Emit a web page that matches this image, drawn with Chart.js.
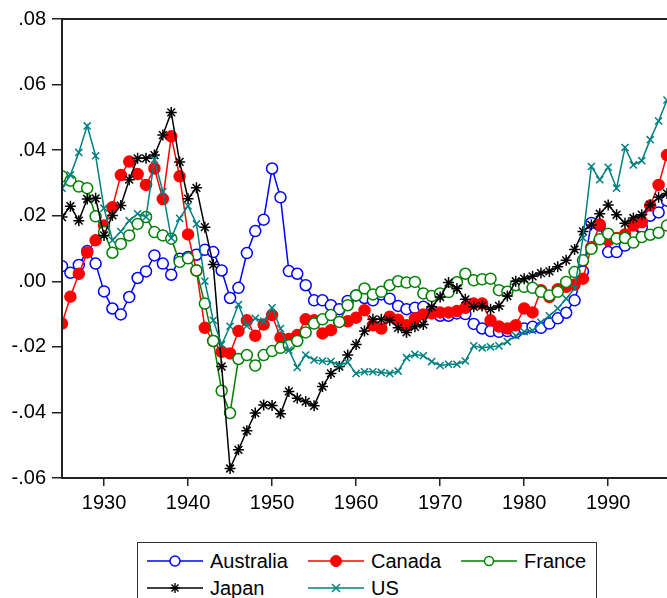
<!DOCTYPE html>
<html><head><meta charset="utf-8">
<script src="https://cdn.jsdelivr.net/npm/chart.js@4/dist/chart.umd.min.js"></script>
<style>
html,body{margin:0;padding:0;background:#fff;overflow:hidden}
#wrap{position:relative;width:667px;height:598px;overflow:hidden;background:#fff}
#c{position:absolute;left:0;top:0}
#legend{position:absolute;left:137px;top:542px;width:460px;height:70px;border:1.5px solid #333;box-sizing:border-box;font-family:"Liberation Sans",Arial,sans-serif;font-size:20px;color:#000;background:#fff}
.item{position:absolute;height:22px;display:flex;align-items:center;white-space:nowrap}
.item svg{margin-right:7px}
</style>
</head><body>
<div id="wrap">
<canvas id="c" width="667" height="598"></canvas>
<div id="legend"></div>
</div>
<script>
const years = [1925,1926,1927,1928,1929,1930,1931,1932,1933,1934,1935,1936,1937,1938,1939,1940,1941,1942,1943,1944,1945,1946,1947,1948,1949,1950,1951,1952,1953,1954,1955,1956,1957,1958,1959,1960,1961,1962,1963,1964,1965,1966,1967,1968,1969,1970,1971,1972,1973,1974,1975,1976,1977,1978,1979,1980,1981,1982,1983,1984,1985,1986,1987,1988,1989,1990,1991,1992,1993,1994,1995,1996,1997];

const australia = [0.0046,0.0026,0.0050,0.0092,0.0054,-0.0031,-0.0083,-0.0101,-0.0048,0.0010,0.0030,0.0079,0.0054,0.0020,0.0069,0.0074,0.0081,0.0096,0.0089,0.0033,-0.0051,-0.0020,0.0086,0.0153,0.0188,0.0344,0.0256,0.0031,0.0023,-0.0012,-0.0058,-0.0058,-0.0073,-0.0085,-0.0060,-0.0043,-0.0051,-0.0058,-0.0040,-0.0053,-0.0075,-0.0085,-0.0081,-0.0078,-0.0090,-0.0105,-0.0105,-0.0098,-0.0100,-0.0130,-0.0144,-0.0152,-0.0154,-0.0152,-0.0156,-0.0144,-0.0139,-0.0142,-0.0129,-0.0113,-0.0096,-0.0058,0.0030,0.0178,0.0170,0.0089,0.0089,0.0109,0.0140,0.0165,0.0200,0.0210,0.0246];

const canada = [-0.0129,-0.0047,0.0023,0.0088,0.0125,0.0170,0.0226,0.0324,0.0365,0.0327,0.0294,0.0344,0.0251,0.0442,0.0320,0.0143,0.0033,-0.0142,-0.0182,-0.0215,-0.0220,-0.0152,-0.0119,-0.0166,-0.0132,-0.0103,-0.0172,-0.0176,-0.0164,-0.0116,-0.0119,-0.0159,-0.0149,-0.0124,-0.0122,-0.0111,-0.0088,-0.0134,-0.0144,-0.0108,-0.0117,-0.0134,-0.0113,-0.0101,-0.0098,-0.0095,-0.0095,-0.0091,-0.0081,-0.0068,-0.0068,-0.0119,-0.0138,-0.0144,-0.0134,-0.0083,-0.0095,-0.0027,-0.0048,-0.0024,-0.0017,-0.0010,0.0008,0.0104,0.0173,0.0125,0.0132,0.0143,0.0170,0.0180,0.0231,0.0294,0.0385];

const france = [0.0320,0.0307,0.0289,0.0284,0.0198,0.0150,0.0087,0.0114,0.0140,0.0175,0.0196,0.0150,0.0140,0.0130,0.0059,0.0070,0.0033,-0.0068,-0.0182,-0.0334,-0.0402,-0.0237,-0.0225,-0.0257,-0.0225,-0.0213,-0.0203,-0.0195,-0.0182,-0.0156,-0.0129,-0.0116,-0.0103,-0.0124,-0.0073,-0.0043,-0.0022,-0.0040,-0.0032,-0.0012,0.0000,-0.0004,-0.0002,-0.0037,-0.0045,-0.0037,-0.0033,-0.0003,0.0023,0.0003,0.0006,0.0008,-0.0027,-0.0032,-0.0012,-0.0017,-0.0020,-0.0032,-0.0043,-0.0032,-0.0002,0.0028,0.0064,0.0099,0.0128,0.0145,0.0130,0.0132,0.0118,0.0135,0.0142,0.0148,0.0170];

const japan = [0.0196,0.0229,0.0185,0.0251,0.0253,0.0140,0.0201,0.0231,0.0310,0.0375,0.0375,0.0385,0.0446,0.0515,0.0364,0.0252,0.0285,0.0165,0.0051,-0.0260,-0.0571,-0.0514,-0.0456,-0.0402,-0.0377,-0.0379,-0.0404,-0.0336,-0.0357,-0.0367,-0.0380,-0.0321,-0.0281,-0.0260,-0.0225,-0.0193,-0.0152,-0.0116,-0.0116,-0.0119,-0.0142,-0.0156,-0.0139,-0.0132,-0.0078,-0.0048,-0.0004,-0.0022,-0.0055,-0.0078,-0.0075,-0.0085,-0.0075,-0.0045,0.0000,0.0008,0.0015,0.0025,0.0030,0.0044,0.0064,0.0097,0.0152,0.0172,0.0206,0.0233,0.0203,0.0177,0.0193,0.0203,0.0233,0.0256,0.0268];

const us = [0.0284,0.0324,0.0393,0.0474,0.0383,0.0223,0.0125,0.0152,0.0185,0.0206,0.0196,0.0371,0.0274,0.0132,0.0192,0.0230,0.0175,0.0000,-0.0119,-0.0193,-0.0137,-0.0071,-0.0136,-0.0113,-0.0122,-0.0081,-0.0144,-0.0210,-0.0263,-0.0225,-0.0240,-0.0243,-0.0245,-0.0255,-0.0247,-0.0281,-0.0276,-0.0276,-0.0278,-0.0281,-0.0274,-0.0233,-0.0223,-0.0227,-0.0245,-0.0257,-0.0253,-0.0253,-0.0243,-0.0197,-0.0203,-0.0200,-0.0197,-0.0184,-0.0166,-0.0154,-0.0150,-0.0125,-0.0105,-0.0083,-0.0053,-0.0022,0.0132,0.0350,0.0310,0.0348,0.0284,0.0408,0.0355,0.0368,0.0432,0.0489,0.0553];

const xTicks = [1930,1940,1950,1960,1970,1980,1990];
const yTicks = [-0.06,-0.04,-0.02,0.00,0.02,0.04,0.06,0.08];
const seriesNames = ["Australia","Canada","France","Japan","US"];

const FONT = '"Liberation Sans", Arial, sans-serif';
const styles = [
  {color:'#0000FF', point:'circle', fill:'#FFFFFF', r:5.5},
  {color:'#FF0000', point:'circle', fill:'#FF0000', r:5.5},
  {color:'#008000', point:'circle', fill:'#FFFFFF', r:5.5},
  {color:'#000000', point:'star', fill:'#000000', r:5.5},
  {color:'#008080', point:'crossRot', fill:'#008080', r:5}
];
const values = [australia, canada, france, japan, us];

const datasets = values.map((vals,i)=>({
  label: seriesNames[i],
  data: years.map((yr,k)=>({x:yr, y:vals[k]})),
  borderColor: styles[i].color,
  backgroundColor: styles[i].fill,
  borderWidth: 1.5,
  pointStyle: styles[i].point,
  pointRadius: styles[i].r,
  pointBorderColor: styles[i].color,
  pointBackgroundColor: styles[i].fill,
  pointBorderWidth: 1.5,
  tension: 0,
  order: 5 - i
}));

const frame = {
  id:'frame',
  afterDatasetsDraw(chart){
    const {ctx, chartArea:a} = chart;
    ctx.save();
    ctx.strokeStyle = '#222';
    ctx.lineWidth = 2;
    ctx.beginPath();
    ctx.moveTo(a.right + 2, a.top);
    ctx.lineTo(a.left, a.top);
    ctx.lineTo(a.left, a.bottom);
    ctx.lineTo(a.right + 2, a.bottom);
    ctx.stroke();
    ctx.restore();
  }
};

new Chart(document.getElementById('c'), {
  type:'line',
  data:{datasets},
  options:{
    responsive:false,
    devicePixelRatio:1,
    animation:false,
    layout:{autoPadding:false, padding:{top:19,left:0,right:0,bottom:0}},
    plugins:{legend:{display:false}, tooltip:{enabled:false}},
    scales:{
      x:{
        type:'linear', min:1925, max:1997,
        afterBuildTicks: s => { s.ticks = xTicks.map(v=>({value:v})); },
        afterFit: s => { s.height = 120; s.paddingLeft = 0; s.paddingRight = 0; },
        ticks:{autoSkip:false, maxRotation:0, color:'#000', padding:5,
               font:{family:FONT, size:20}, callback: v => String(v)},
        grid:{drawOnChartArea:false, drawTicks:true, tickLength:8, color:'#222', lineWidth:1.5},
        border:{display:false}
      },
      y:{
        type:'linear', min:-0.06, max:0.08,
        afterBuildTicks: s => { s.ticks = yTicks.map(v=>({value:v})); },
        afterFit: s => { s.width = 62; },
        ticks:{color:'#000', padding:6, font:{family:FONT, size:20},
               callback: v => v.toFixed(2).replace('0.', '.')},
        grid:{drawOnChartArea:false, drawTicks:true, tickLength:10, color:'#222', lineWidth:1.5},
        border:{display:false}
      }
    }
  },
  plugins:[frame]
});

// HTML legend (line + marker samples)
const legendPos = [
  {left:9, top:7}, {left:170, top:7}, {left:323, top:7},
  {left:9, top:34}, {left:170, top:34}
];
function markerSvg(i){
  const s = styles[i], c = s.color;
  let m = '';
  if (i===0 || i===2) m = `<circle cx="28" cy="11" r="${i===0?5:4.5}" fill="#fff" stroke="${c}" stroke-width="1.5"/>`;
  else if (i===1) m = `<circle cx="28" cy="11" r="5.5" fill="${c}" stroke="${c}" stroke-width="1"/>`;
  else if (i===3) m = `<g stroke="${c}" stroke-width="1.4"><line x1="28" y1="6" x2="28" y2="16"/><line x1="23" y1="11" x2="33" y2="11"/><line x1="24.5" y1="7.5" x2="31.5" y2="14.5"/><line x1="31.5" y1="7.5" x2="24.5" y2="14.5"/></g>`;
  else m = `<g stroke="${c}" stroke-width="1.5"><line x1="24" y1="7" x2="32" y2="15"/><line x1="32" y1="7" x2="24" y2="15"/></g>`;
  return `<svg width="56" height="22" viewBox="0 0 56 22"><line x1="0" y1="11" x2="56" y2="11" stroke="${c}" stroke-width="1.5"/>${m}</svg>`;
}
const lg = document.getElementById('legend');
seriesNames.forEach((n,i)=>{
  const d = document.createElement('div');
  d.className = 'item';
  d.style.left = legendPos[i].left + 'px';
  d.style.top = legendPos[i].top + 'px';
  d.innerHTML = markerSvg(i) + '<span>' + n + '</span>';
  lg.appendChild(d);
});
</script>
</body></html>
